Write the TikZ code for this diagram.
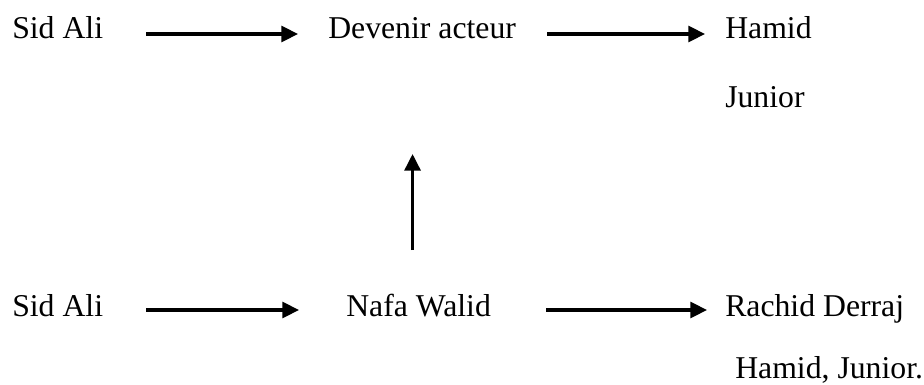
\documentclass[tikz,border=0pt]{standalone}
\usepackage{fontspec}
\setmainfont{Liberation Serif}
\usetikzlibrary{arrows.meta,calc}

\tikzset{
  word/.style={inner sep=0pt, anchor=base west, font=\fontsize{23.8pt}{28pt}\selectfont},
  arr/.style={-{Triangle[length=12.5pt,width=12pt]}, line width=2.3pt}
}

\begin{document}
\begin{tikzpicture}[x=0.75pt, y=-0.75pt]

    \useasboundingbox (0,0) rectangle (924,385);

    \node[word] (a) at (12, 39) {Sid Ali};
    \node[word] (b) at (328, 39) {Devenir acteur};
    \node[word] (c) at (725, 39) {Hamid};
    \node[word] (d) at (725, 108) {Junior};
    \node[word] (e) at (12, 316) {Sid Ali};
    \node[word] (f) at (346, 316) {Nafa Walid};
    \node[word] (g) at (725, 316) {Rachid Derraj};
    \node[word] (h) at (735, 378) {Hamid, Junior.};

    \draw [arr] ($(a.base east)+(43,-5)$) -- ($(b.base west)+(-30,-5)$);
    \draw [arr] ($(b.base east)+(31,-5)$) -- ($(c.base west)+(-20,-5)$);
    \draw [arr] ($(e.base east)+(43,-6)$) -- ($(f.base west)+(-47,-6)$);
    \draw [arr] ($(f.base east)+(55,-6)$) -- ($(g.base west)+(-18,-6)$);
    \draw [arr] ($(f.base)+(-6,-66)$) -- ++(0,-96);

\end{tikzpicture}
\end{document}
